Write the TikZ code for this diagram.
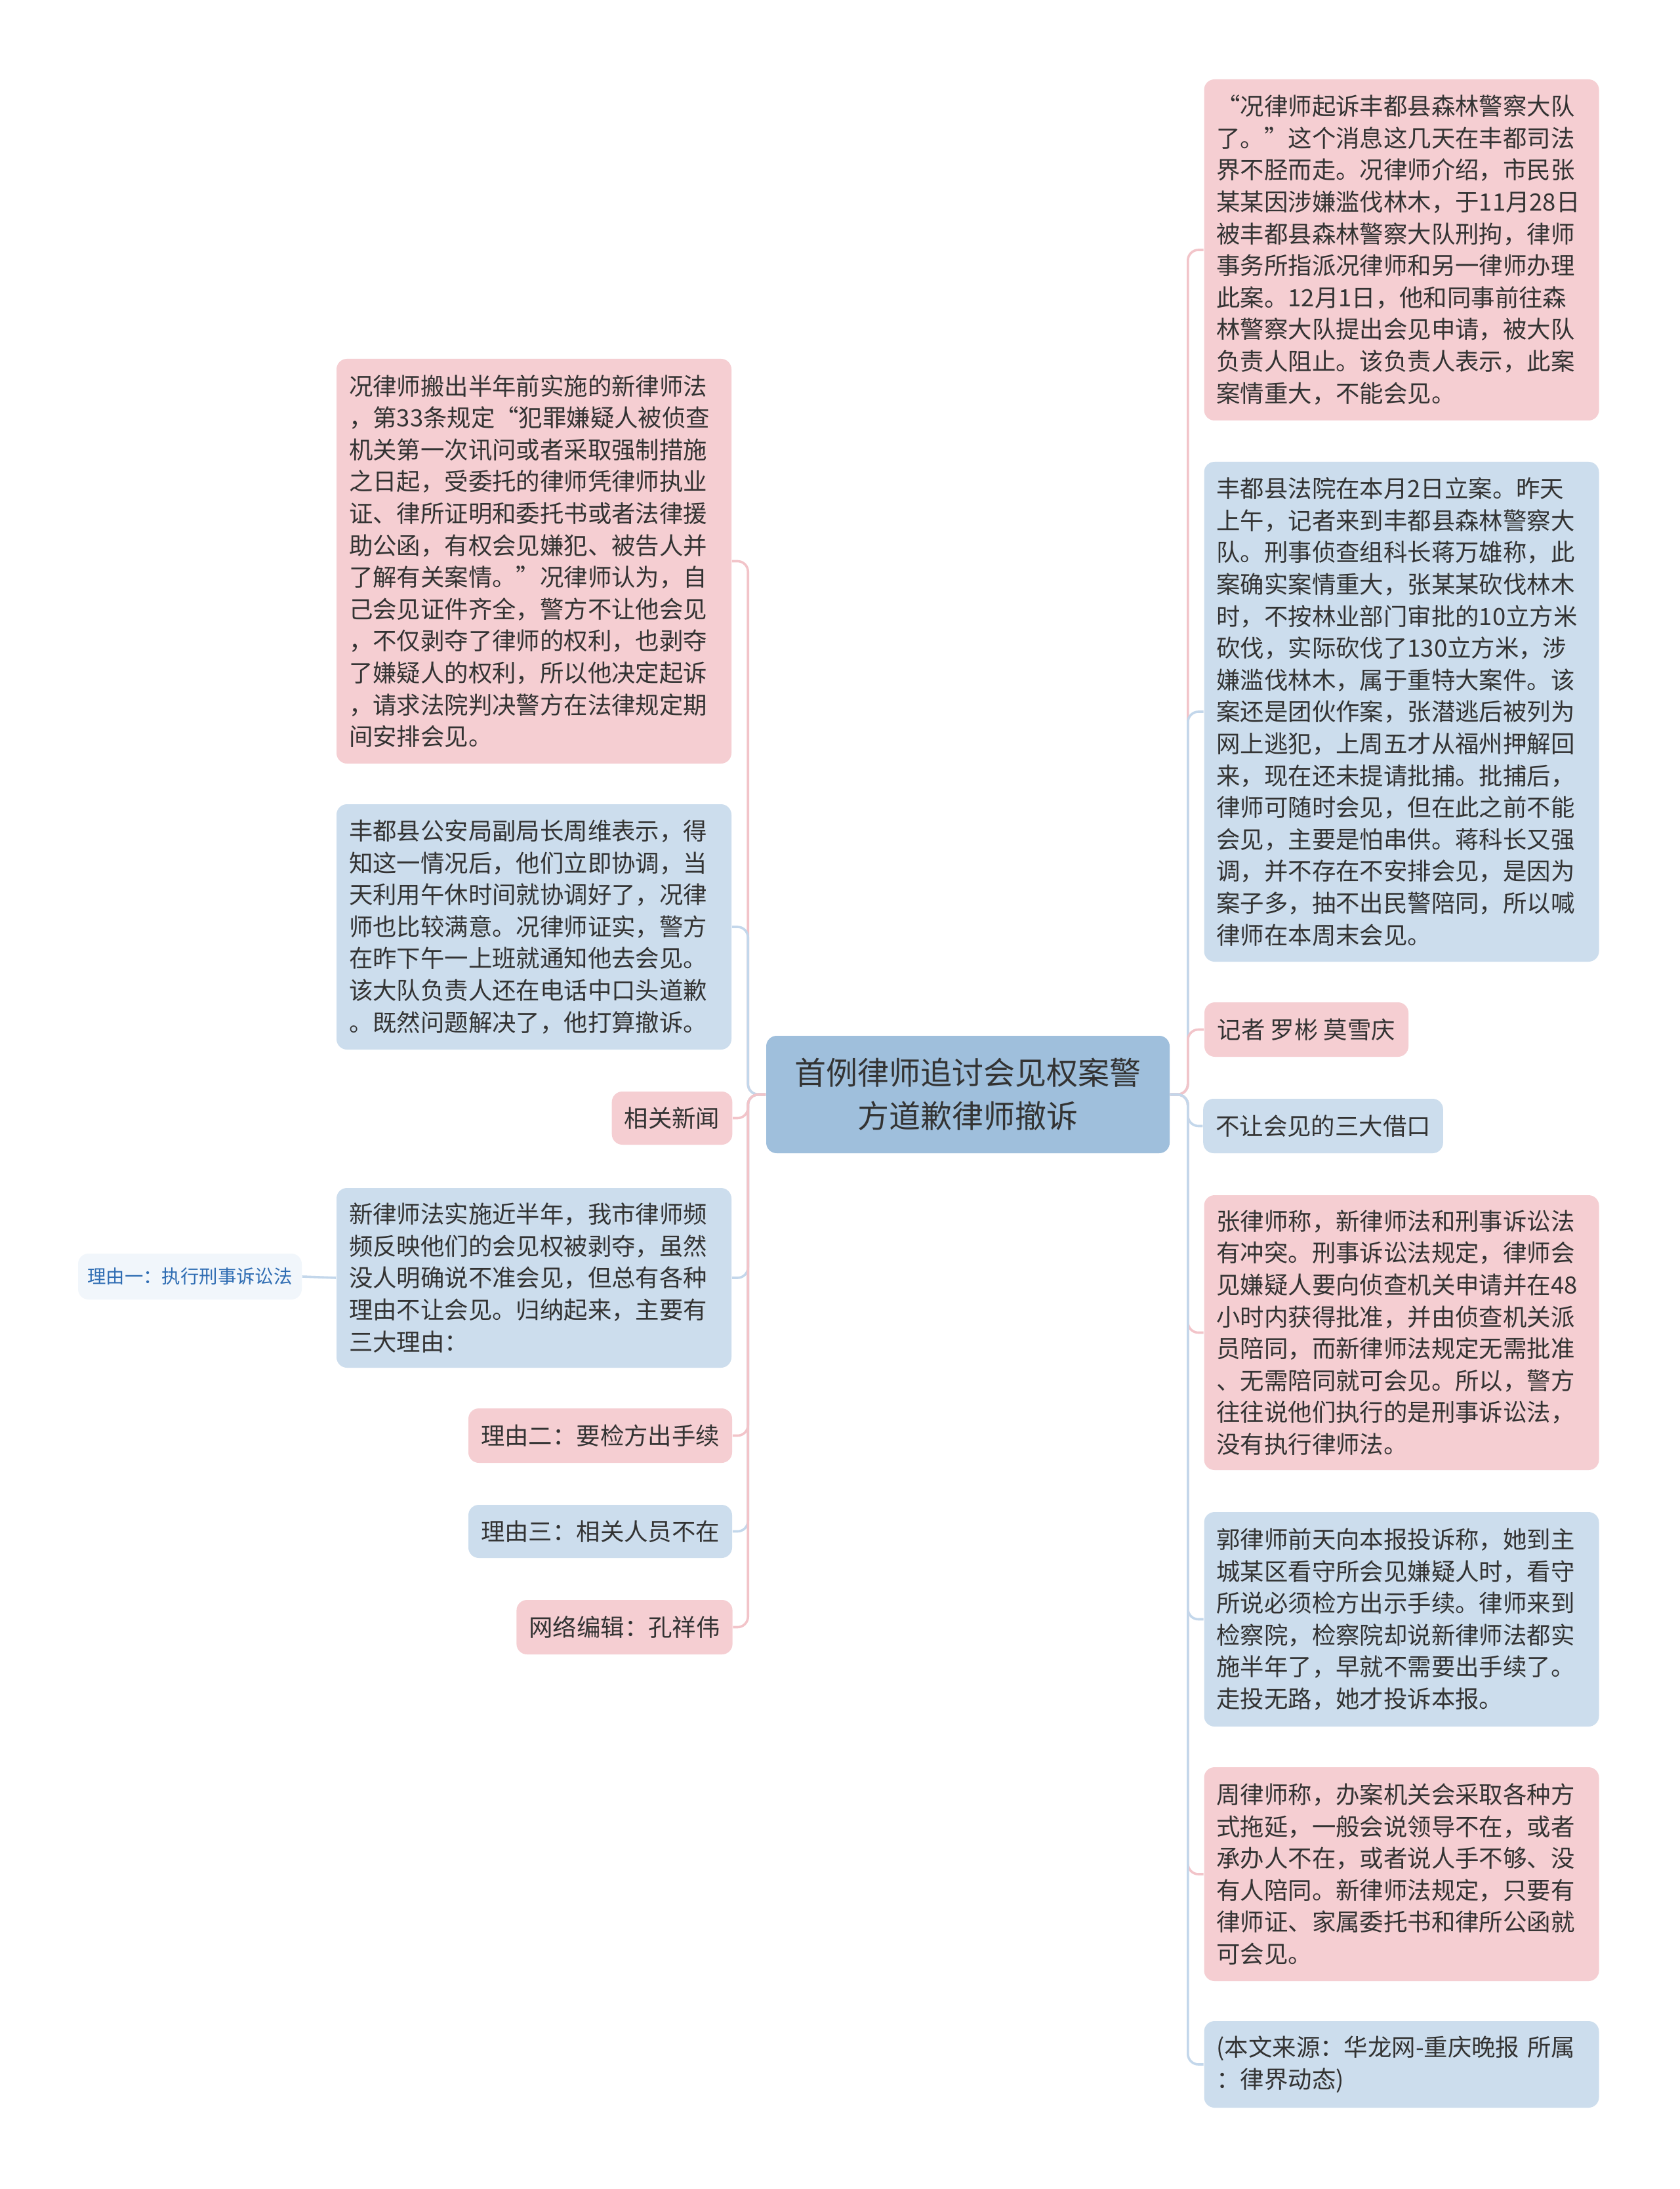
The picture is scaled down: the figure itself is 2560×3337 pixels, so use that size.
\documentclass[tikz,border=0pt]{standalone}
\usepackage{fontspec}
\setmainfont{Noto Sans CJK SC}
\usepackage{tikz}
\usepackage{xcolor}

\definecolor{pinkfill}{HTML}{F5CED2}
\definecolor{bluefill}{HTML}{CCDDED}
\definecolor{rootfill}{HTML}{9FBFDC}
\definecolor{palefill}{HTML}{F1F6FB}
\definecolor{linkpink}{HTML}{F2C4C9}
\definecolor{linkblue}{HTML}{C3D7EB}
\definecolor{txt}{HTML}{333333}
\definecolor{paletxt}{HTML}{2F6DB3}

\tikzset{
  box/.style={rounded corners=4pt, text=txt, inner xsep=4.75pt, inner ysep=0pt,
    font=\fontsize{9.1pt}{12.15pt}\selectfont},
  pinkbox/.style={box, fill=pinkfill},
  bluebox/.style={box, fill=bluefill},
  para/.style={text width=141pt, align=left, minimum height=#1},
  lpink/.style={draw=linkpink, line width=0.9pt, rounded corners=4pt},
  lblue/.style={draw=linkblue, line width=0.9pt, rounded corners=4pt}
}

\begin{document}
\begin{tikzpicture}[x=0.25pt, y=-0.25pt]
    \fill[white] (0,0) rectangle (2560,3337);

    \node[rounded corners=4pt, fill=rootfill, text=txt, align=center, minimum width=153.75pt,
      minimum height=44.75pt, font=\fontsize{12pt}{16.5pt}\selectfont] (root) at (1475.5,1668.5)
      {首例律师追讨会见权案警\\方道歉律师撤诉};

    \node[pinkbox, para=154.25pt] (l1) at (814,855.5) {况律师搬出半年前实施的新律师法\\，第33条规定“犯罪嫌疑人被侦查\\机关第一次讯问或者采取强制措施\\之日起，受委托的律师凭律师执业\\证、律所证明和委托书或者法律援\\助公函，有权会见嫌犯、被告人并\\了解有关案情。”况律师认为，自\\己会见证件齐全，警方不让他会见\\，不仅剥夺了律师的权利，也剥夺\\了嫌疑人的权利，所以他决定起诉\\，请求法院判决警方在法律规定期\\间安排会见。};
    \node[bluebox, para=93.5pt] (l2) at (814,1413) {丰都县公安局副局长周维表示，得\\知这一情况后，他们立即协调，当\\天利用午休时间就协调好了，况律\\师也比较满意。况律师证实，警方\\在昨下午一上班就通知他去会见。\\该大队负责人还在电话中口头道歉\\。既然问题解决了，他打算撤诉。};
    \node[pinkbox, minimum width=45.25pt, minimum height=20.25pt] (l3) at (1024.5,1704.5) {相关新闻};
    \node[bluebox, para=68.5pt] (l4) at (814,1948) {新律师法实施近半年，我市律师频\\频反映他们的会见权被剥夺，虽然\\没人明确说不准会见，但总有各种\\理由不让会见。归纳起来，主要有\\三大理由：};
    \node[rounded corners=4pt, fill=palefill, text=paletxt, inner sep=0pt, minimum width=85.25pt,
      minimum height=17.5pt, font=\fontsize{7.1pt}{9pt}\selectfont] (why1) at (289.5,1946) {理由一：执行刑事诉讼法};
    \node[pinkbox, minimum width=100pt, minimum height=20.75pt] (l5) at (915,2188.5) {理由二：要检方出手续};
    \node[bluebox, minimum width=100pt, minimum height=20.25pt] (l6) at (915,2334.5) {理由三：相关人员不在};
    \node[pinkbox, minimum width=81.5pt, minimum height=20.75pt] (l7) at (952,2480.5) {网络编辑：孔祥伟};

    \node[pinkbox, para=130pt] (r1) at (2136.5,381) {“况律师起诉丰都县森林警察大队\\了。”这个消息这几天在丰都司法\\界不胫而走。况律师介绍，市民张\\某某因涉嫌滥伐林木，于11月28日\\被丰都县森林警察大队刑拘，律师\\事务所指派况律师和另一律师办理\\此案。12月1日，他和同事前往森\\林警察大队提出会见申请，被大队\\负责人阻止。该负责人表示，此案\\案情重大，不能会见。};
    \node[bluebox, para=190.5pt] (r2) at (2136.5,1085) {丰都县法院在本月2日立案。昨天\\上午，记者来到丰都县森林警察大\\队。刑事侦查组科长蒋万雄称，此\\案确实案情重大，张某某砍伐林木\\时，不按林业部门审批的10立方米\\砍伐，实际砍伐了130立方米，涉\\嫌滥伐林木，属于重特大案件。该\\案还是团伙作案，张潜逃后被列为\\网上逃犯，上周五才从福州押解回\\来，现在还未提请批捕。批捕后，\\律师可随时会见，但在此之前不能\\会见，主要是怕串供。蒋科长又强\\调，并不存在不安排会见，是因为\\案子多，抽不出民警陪同，所以喊\\律师在本周末会见。};
    \node[pinkbox, minimum width=77.75pt, minimum height=20.75pt] (r3) at (1991.5,1569.5) {记者 罗彬 莫雪庆};
    \node[bluebox, minimum width=90.5pt, minimum height=20.75pt] (r4) at (2017,1716.5) {不让会见的三大借口};
    \node[pinkbox, para=104.75pt] (r5) at (2136.5,2031.5) {张律师称，新律师法和刑事诉讼法\\有冲突。刑事诉讼法规定，律师会\\见嫌疑人要向侦查机关申请并在48\\小时内获得批准，并由侦查机关派\\员陪同，而新律师法规定无需批准\\、无需陪同就可会见。所以，警方\\往往说他们执行的是刑事诉讼法，\\没有执行律师法。};
    \node[bluebox, para=81.75pt] (r6) at (2136.5,2468.5) {郭律师前天向本报投诉称，她到主\\城某区看守所会见嫌疑人时，看守\\所说必须检方出示手续。律师来到\\检察院，检察院却说新律师法都实\\施半年了，早就不需要出手续了。\\走投无路，她才投诉本报。};
    \node[pinkbox, para=81.5pt] (r7) at (2136.5,2857) {周律师称，办案机关会采取各种方\\式拖延，一般会说领导不在，或者\\承办人不在，或者说人手不够、没\\有人陪同。新律师法规定，只要有\\律师证、家属委托书和律所公函就\\可会见。};
    \node[bluebox, para=33pt] (r8) at (2136.5,3147) {(本文来源：华龙网-重庆晚报 所属\\：律界动态)};

    \draw[lpink] (root.west) -- ++(-27,0) |- (l1.east);
    \draw[lblue] (root.west) -- ++(-27,0) |- (l2.east);
    \draw[lpink] (root.west) -- ++(-27,0) |- (l3.east);
    \draw[lblue] (root.west) -- ++(-27,0) |- (l4.east);
    \draw[lpink] (root.west) -- ++(-27,0) |- (l5.east);
    \draw[lblue] (root.west) -- ++(-27,0) |- (l6.east);
    \draw[lpink] (root.west) -- ++(-27,0) |- (l7.east);
    \draw[lblue] (l4.west) -- (why1.east);

    \draw[lpink] (root.east) -- ++(27,0) |- (r1.west);
    \draw[lblue] (root.east) -- ++(27,0) |- (r2.west);
    \draw[lpink] (root.east) -- ++(27,0) |- (r3.west);
    \draw[lblue] (root.east) -- ++(27,0) |- (r4.west);
    \draw[lpink] (root.east) -- ++(27,0) |- (r5.west);
    \draw[lblue] (root.east) -- ++(27,0) |- (r6.west);
    \draw[lpink] (root.east) -- ++(27,0) |- (r7.west);
    \draw[lblue] (root.east) -- ++(27,0) |- (r8.west);
\end{tikzpicture}
\end{document}
